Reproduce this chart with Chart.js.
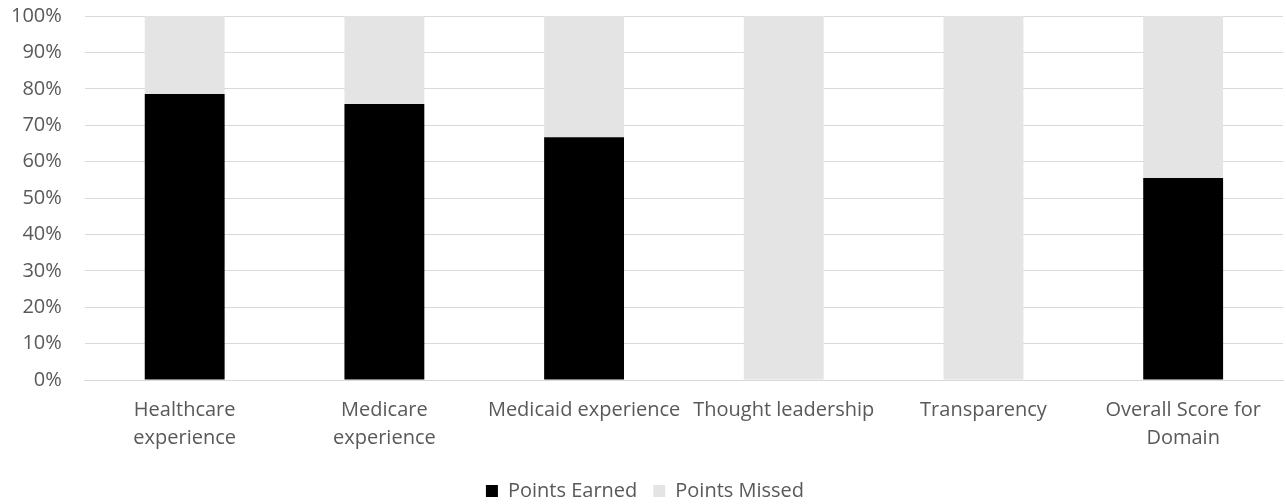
<!DOCTYPE html>
<html>
<head>
<meta charset="utf-8">
<script src="https://cdn.jsdelivr.net/npm/chart.js@4"></script>
<style>
  html, body { margin: 0; padding: 0; background: #fff; }
  #wrap { width: 1286px; height: 504px; }
</style>
</head>
<body>
<div id="wrap"><canvas id="scoreChart"></canvas></div>
<script>
const categories = [
  ['Healthcare', 'experience'],
  ['Medicare', 'experience'],
  'Medicaid experience',
  'Thought leadership',
  'Transparency',
  ['Overall Score for', 'Domain']
];
const pointsEarned = [78.6, 75.8, 66.7, 0, 0, 55.5];
const pointsMissed = [21.4, 24.2, 33.3, 100, 100, 44.5];
const yTicks = [0, 10, 20, 30, 40, 50, 60, 70, 80, 90, 100];

Chart.defaults.font.family = "'Open Sans', sans-serif";
Chart.defaults.font.size = 20;
Chart.defaults.color = '#595959';

document.addEventListener('DOMContentLoaded', () => {
  new Chart(document.getElementById('scoreChart'), {
    type: 'bar',
    data: {
      labels: categories,
      datasets: [
        { label: 'Points Earned', data: pointsEarned, backgroundColor: '#000000',
          barPercentage: 0.4, categoryPercentage: 1.0 },
        { label: 'Points Missed', data: pointsMissed, backgroundColor: '#e4e4e4',
          barPercentage: 0.4, categoryPercentage: 1.0 }
      ]
    },
    options: {
      responsive: true,
      maintainAspectRatio: false,
      animation: false,
      layout: { padding: { top: -1, right: 3, bottom: -7, left: 7 } },
      plugins: {
        legend: {
          position: 'bottom',
          labels: { boxWidth: 12, boxHeight: 12, padding: 16, font: { size: 20 } }
        },
        tooltip: { enabled: false }
      },
      scales: {
        x: {
          stacked: true,
          grid: { display: false },
          border: { display: true, color: '#d9d9d9' },
          ticks: { maxRotation: 0, autoSkip: false, padding: 8, font: { lineHeight: 1.4 } },
          afterFit: axis => { axis.height += 5; }
        },
        y: {
          stacked: true,
          min: 0,
          max: 100,
          afterBuildTicks: axis => { axis.ticks = yTicks.map(v => ({ value: v })); },
          grid: { color: '#d9d9d9', lineWidth: 1, drawTicks: true, tickLength: 19, tickColor: 'rgba(0,0,0,0)' },
          border: { display: false },
          ticks: { padding: 4, callback: v => v + '%' }
        }
      }
    }
  });
});
</script>
</body>
</html>
